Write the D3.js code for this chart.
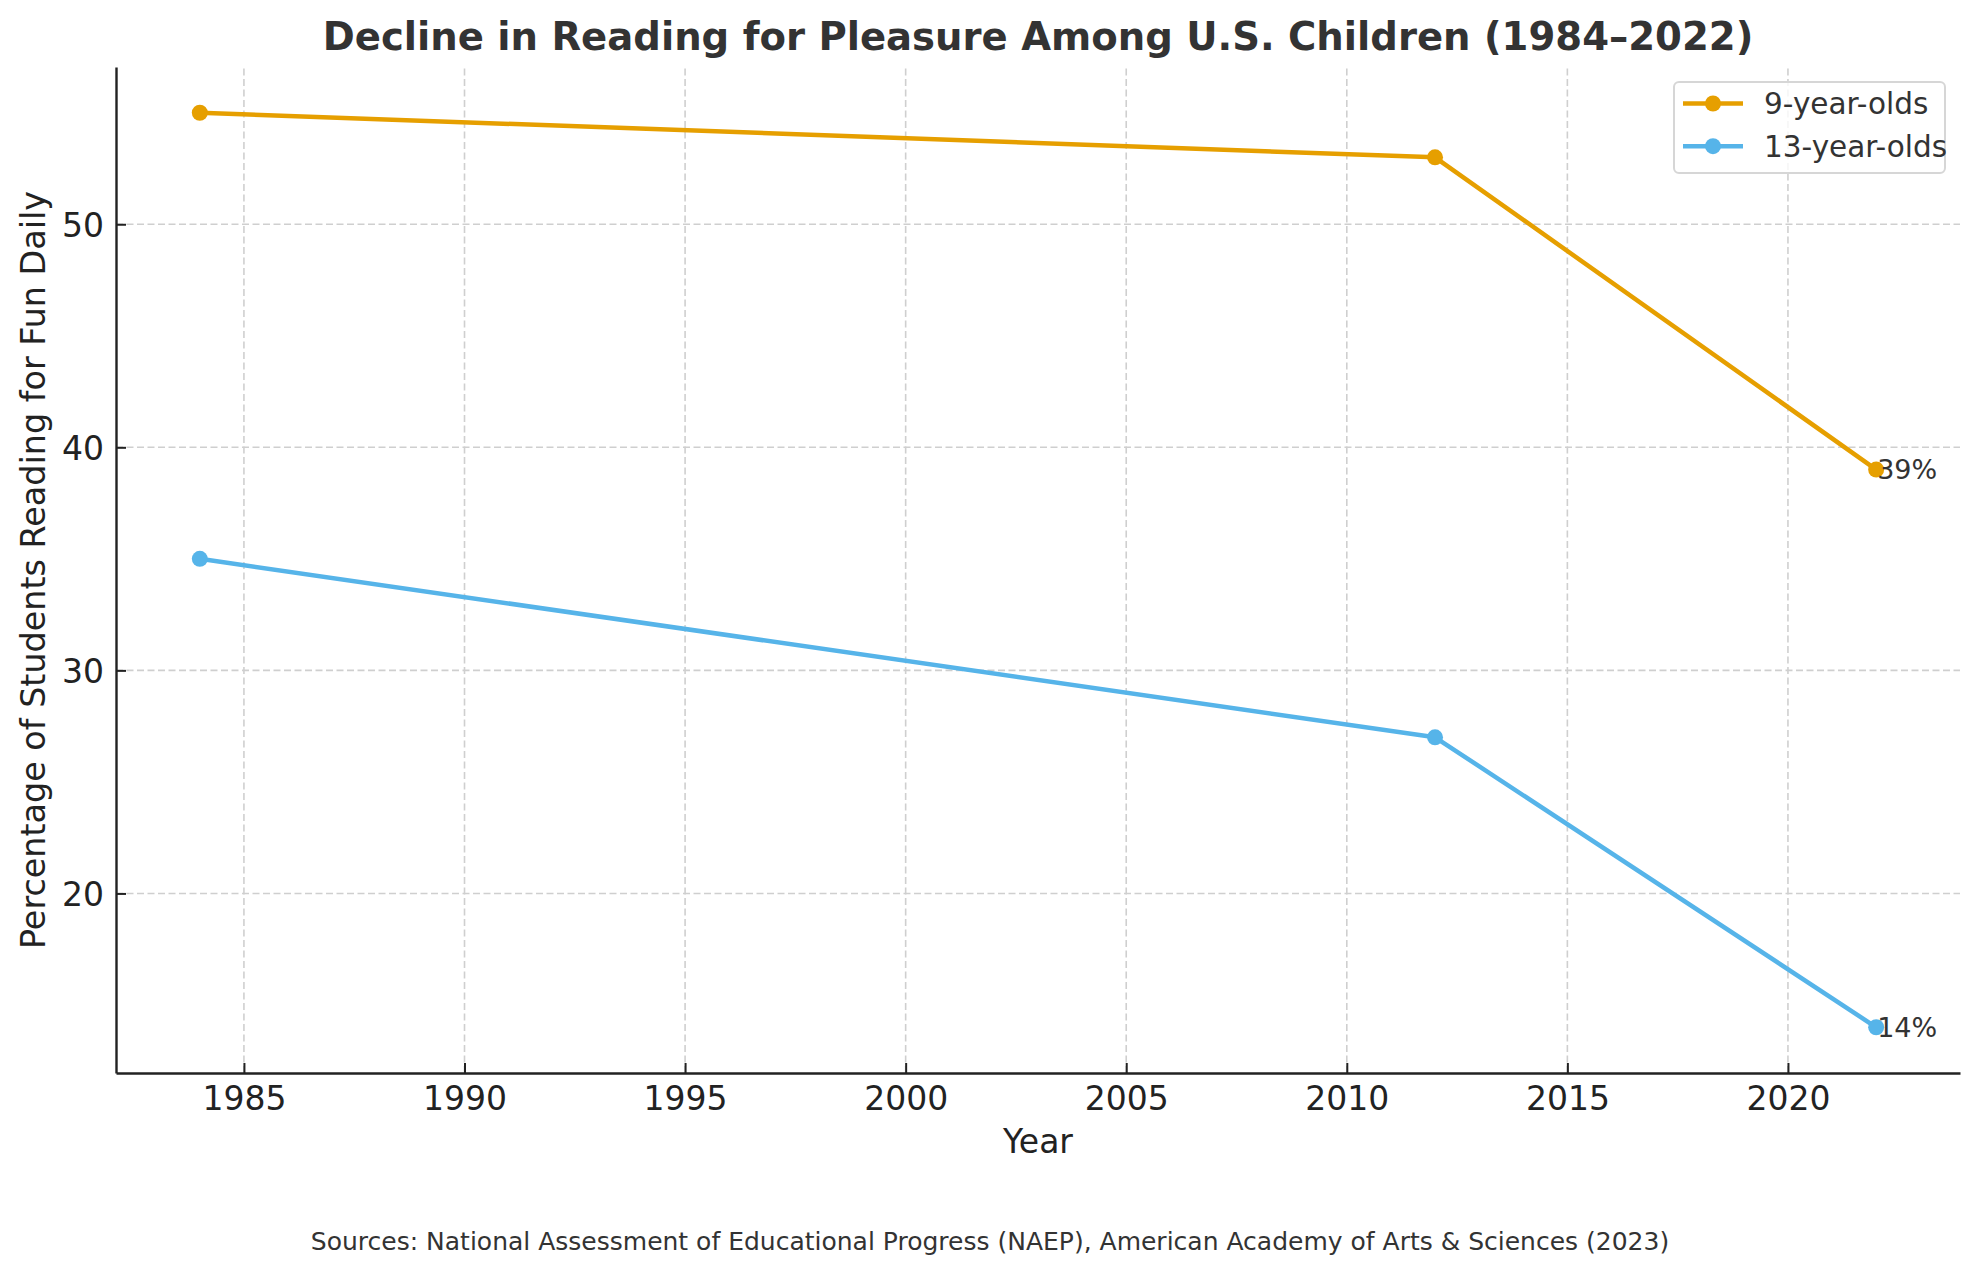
<!DOCTYPE html>
<html>
<head>
<meta charset="utf-8">
<script src="https://cdn.jsdelivr.net/npm/d3@7"></script>
<style>
  body { margin: 0; background: #fff; }
  text { font-family: "DejaVu Sans", sans-serif; }
</style>
</head>
<body>
<svg id="chart" width="1979" height="1275"></svg>
<script>
// data ------------------------------------------------------------ //
var years = [1984, 2012, 2022];
var nineYearOlds = [55, 53, 39];
var thirteenYearOlds = [35, 27, 14];
var seriesNames = ['9-year-olds', '13-year-olds'];
var seriesColors = ['#E69F00', '#56B4E9'];
var xTicks = [1985, 1990, 1995, 2000, 2005, 2010, 2015, 2020];
var yTicks = [20, 30, 40, 50];

var series = [nineYearOlds, thirteenYearOlds].map(function (vals, i) {
  return {
    name: seriesNames[i],
    color: seriesColors[i],
    points: years.map(function (y, j) { return { year: y, value: vals[j] }; })
  };
});

var margin = { left: 116, right: 19, top: 67, bottom: 202 },
  width = 1979,
  height = 1275;

var svg = d3.select('#chart');
svg.append('rect').attr('width', width).attr('height', height).attr('fill', '#fff');

var x = d3.scaleLinear()
  .domain([1982.1, 2023.9])
  .range([margin.left, width - margin.right]);
var y = d3.scaleLinear()
  .domain([11.95, 57.05])
  .range([height - margin.bottom, margin.top]);

// grid ------------------------------------------------------------ //
var grid = svg.append('g');
grid.selectAll('line.vx')
  .data(xTicks)
  .enter().append('line')
  .attr('x1', function (d) { return x(d); })
  .attr('x2', function (d) { return x(d); })
  .attr('y1', y.range()[0])
  .attr('y2', y.range()[1])
  .attr('stroke', '#cfcfcf')
  .attr('stroke-width', 1.6)
  .attr('stroke-dasharray', '7,3.5');
grid.selectAll('line.hy')
  .data(yTicks)
  .enter().append('line')
  .attr('x1', x.range()[0])
  .attr('x2', x.range()[1])
  .attr('y1', function (d) { return y(d); })
  .attr('y2', function (d) { return y(d); })
  .attr('stroke', '#cfcfcf')
  .attr('stroke-width', 1.6)
  .attr('stroke-dasharray', '7,3.5');

// axes ------------------------------------------------------------ //
var xAxis = svg.append('g')
  .attr('transform', 'translate(0,' + y.range()[0] + ')')
  .call(d3.axisBottom(x).tickValues(xTicks).tickFormat(d3.format('d'))
    .tickSizeInner(-10).tickSizeOuter(0).tickPadding(14));
var yAxis = svg.append('g')
  .attr('transform', 'translate(' + x.range()[0] + ',0)')
  .call(d3.axisLeft(y).tickValues(yTicks)
    .tickSizeInner(-10).tickSizeOuter(0).tickPadding(12));

[xAxis, yAxis].forEach(function (ax) {
  ax.select('.domain').attr('stroke', '#222').attr('stroke-width', 2.4);
  ax.selectAll('.tick line').attr('stroke', '#222').attr('stroke-width', 2);
  ax.selectAll('.tick text')
    .attr('fill', '#222')
    .style('font-size', '33px')
    .style('font-family', '"DejaVu Sans", sans-serif');
});
xAxis.selectAll('.tick text').attr('dy', '0.71em');
yAxis.selectAll('.tick text').attr('dy', '0.36em');

// lines ----------------------------------------------------------- //
var line = d3.line()
  .x(function (d) { return x(d.year); })
  .y(function (d) { return y(d.value); });

var groups = svg.selectAll('g.series')
  .data(series)
  .enter().append('g')
  .attr('class', 'series');

groups.append('path')
  .attr('d', function (d) { return line(d.points); })
  .attr('fill', 'none')
  .attr('stroke', function (d) { return d.color; })
  .attr('stroke-width', 4.5)
  .attr('stroke-linejoin', 'round');

groups.selectAll('circle')
  .data(function (d) { return d.points.map(function (p) { return { p: p, color: d.color }; }); })
  .enter().append('circle')
  .attr('cx', function (d) { return x(d.p.year); })
  .attr('cy', function (d) { return y(d.p.value); })
  .attr('r', 8)
  .attr('fill', function (d) { return d.color; });

// end labels
groups.append('text')
  .attr('x', function (d) { return x(d.points[d.points.length - 1].year) + 1; })
  .attr('y', function (d) { return y(d.points[d.points.length - 1].value); })
  .attr('dy', '0.36em')
  .attr('fill', '#333')
  .style('font-size', '27px')
  .text(function (d) { return d.points[d.points.length - 1].value + '%'; });

// legend ---------------------------------------------------------- //
var legend = svg.append('g').attr('transform', 'translate(1674,82)');
legend.append('rect')
  .attr('width', 271).attr('height', 91)
  .attr('rx', 5)
  .attr('fill', '#fff')
  .attr('fill-opacity', 0.8)
  .attr('stroke', '#d6d6d6')
  .attr('stroke-width', 2);
var items = legend.selectAll('g.item')
  .data(series)
  .enter().append('g')
  .attr('transform', function (d, i) { return 'translate(0,' + (21.5 + i * 42.7) + ')'; });
items.append('line')
  .attr('x1', 9).attr('x2', 69)
  .attr('stroke', function (d) { return d.color; })
  .attr('stroke-width', 4.5);
items.append('circle')
  .attr('cx', 39).attr('r', 8)
  .attr('fill', function (d) { return d.color; });
items.append('text')
  .attr('x', 90)
  .attr('dy', '0.36em')
  .attr('fill', '#333')
  .style('font-size', '29.5px')
  .text(function (d) { return d.name; });

// titles ---------------------------------------------------------- //
var cx = (x.range()[0] + x.range()[1]) / 2;
svg.append('text')
  .attr('x', cx).attr('y', 50)
  .attr('text-anchor', 'middle')
  .attr('fill', '#333')
  .style('font-size', '38.6px')
  .style('font-weight', 'bold')
  .text('Decline in Reading for Pleasure Among U.S. Children (1984–2022)');

svg.append('text')
  .attr('x', cx).attr('y', 1153)
  .attr('text-anchor', 'middle')
  .attr('fill', '#222')
  .style('font-size', '33px')
  .text('Year');

svg.append('text')
  .attr('transform', 'translate(45,' + ((y.range()[0] + y.range()[1]) / 2) + ') rotate(-90)')
  .attr('text-anchor', 'middle')
  .attr('fill', '#222')
  .style('font-size', '33.4px')
  .text('Percentage of Students Reading for Fun Daily');

svg.append('text')
  .attr('x', 990).attr('y', 1250)
  .attr('text-anchor', 'middle')
  .attr('fill', '#333')
  .style('font-size', '25px')
  .text('Sources: National Assessment of Educational Progress (NAEP), American Academy of Arts & Sciences (2023)');
</script>
</body>
</html>
